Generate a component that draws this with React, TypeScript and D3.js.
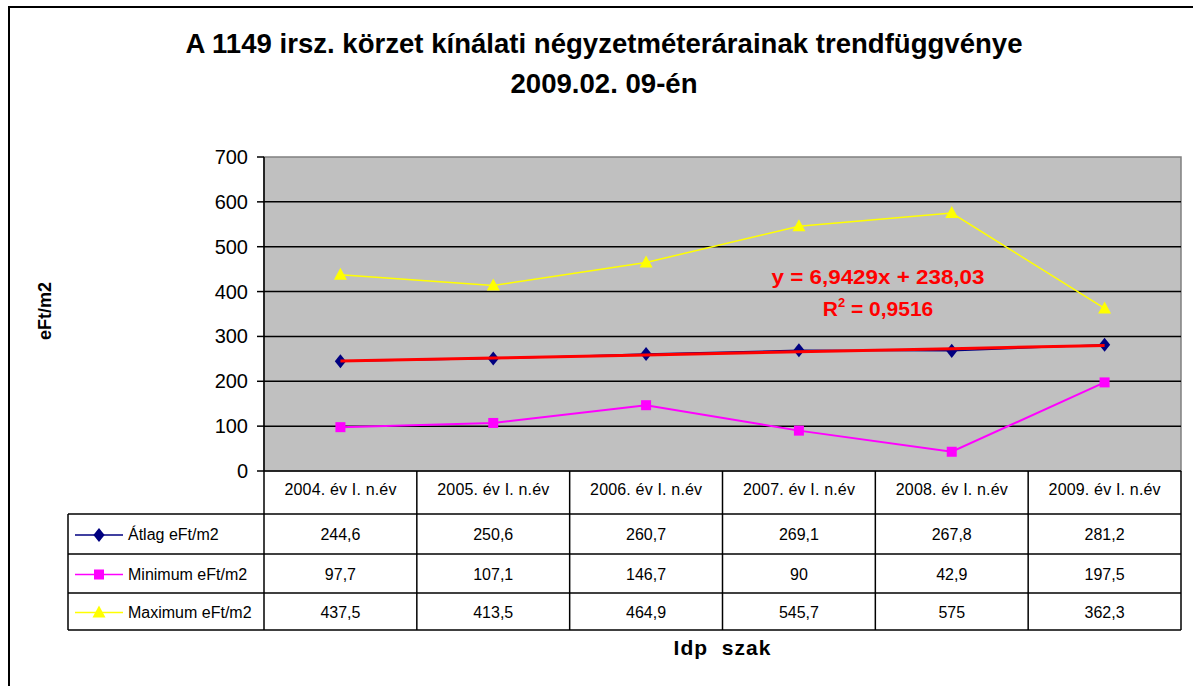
import React from "react";
import * as d3 from "d3";

const categories = ["2004. év I. n.év", "2005. év I. n.év", "2006. év I. n.év", "2007. év I. n.év", "2008. év I. n.év", "2009. év I. n.év"];
const atlag = [244.6, 250.6, 260.7, 269.1, 267.8, 281.2];
const minimum = [97.7, 107.1, 146.7, 90, 42.9, 197.5];
const maximum = [437.5, 413.5, 464.9, 545.7, 575, 362.3];
const seriesNames = ["Átlag eFt/m2", "Minimum eFt/m2", "Maximum eFt/m2"];
const yTicks = [0, 100, 200, 300, 400, 500, 600, 700];
const trendSlope = 6.9429;
const trendIntercept = 238.03;

const fmt = (v: number) => String(v).replace(".", ",");

export default function App() {
  const W = 1193, H = 686;
  const left = 264, right = 1181, top = 157, bottom = 471;
  const x = d3.scaleBand<string>().domain(categories).range([left, right]);
  const y = d3.scaleLinear().domain([0, 700]).range([bottom, top]);
  const cx = (i: number) => (x(categories[i]) as number) + x.bandwidth() / 2;
  const line = d3.line<number>().x((_, i) => cx(i)).y((d) => y(d));
  const rowYs = [471, 514, 554, 593, 630];
  const tableLeft = 68;
  const font = "Liberation Sans, Arial, sans-serif";

  const series = [
    { name: seriesNames[0], data: atlag, color: "#000080", width: 1.5, marker: "diamond" },
    { name: seriesNames[1], data: minimum, color: "#FF00FF", width: 2, marker: "square" },
    { name: seriesNames[2], data: maximum, color: "#FFFF00", width: 1.5, marker: "triangle" },
  ];
  const marker = (type: string, px: number, py: number, color: string, key: string) => {
    if (type === "diamond") {
      const s = d3.symbol(d3.symbolDiamond, 70)();
      return <path key={key} d={s as string} transform={`translate(${px},${py}) scale(1.25,0.9)`} fill={color} />;
    }
    if (type === "square") return <rect key={key} x={px - 5} y={py - 5} width={10} height={10} fill={color} />;
    return <path key={key} d={`M${px},${py - 7}L${px + 6.5},${py + 5}L${px - 6.5},${py + 5}Z`} fill={color} />;
  };

  const trendData = categories.map((_, i) => trendSlope * (i + 1) + trendIntercept);

  return (
    <svg width={W} height={H} style={{ position: "absolute", left: 0, top: 0, background: "#fff" }} fontFamily={font}>
      <rect x={9} y={7} width={1300} height={800} fill="none" stroke="#000" strokeWidth={2} />
      <text x={604} y={53} textAnchor="middle" fontWeight="bold" fontSize={27} textLength={837} lengthAdjust="spacingAndGlyphs">A 1149 irsz. körzet kínálati négyzetméterárainak trendfüggvénye</text>
      <text x={604} y={93} textAnchor="middle" fontWeight="bold" fontSize={27} textLength={187} lengthAdjust="spacingAndGlyphs">2009.02. 09-én</text>

      {/* plot area */}
      <rect x={left} y={top} width={right - left} height={bottom - top} fill="#C0C0C0" stroke="#808080" strokeWidth={1.5} />
      {yTicks.filter((t) => t > 0 && t < 700).map((t) => (
        <line key={t} x1={left} x2={right} y1={y(t)} y2={y(t)} stroke="#000" strokeWidth={1.5} />
      ))}
      <line x1={left} x2={left} y1={top} y2={bottom} stroke="#000" strokeWidth={1.5} />
      {yTicks.map((t) => (
        <g key={t}>
          <line x1={left - 7} x2={left} y1={y(t)} y2={y(t)} stroke="#000" strokeWidth={1.5} />
          <text x={248} y={y(t) + 7} textAnchor="end" fontSize={20}>{t}</text>
        </g>
      ))}

      {series.map((s) => (
        <path key={s.name} d={line(s.data) as string} fill="none" stroke={s.color} strokeWidth={s.width} />
      ))}
      {series.map((s) => s.data.map((v, i) => marker(s.marker, cx(i), y(v), s.color, s.name + i)))}
      <path d={line(trendData) as string} fill="none" stroke="#FF0000" strokeWidth={3} />

      <text x={878} y={284} textAnchor="middle" fontWeight="bold" fontSize={21} fill="#FF0000" textLength={213} lengthAdjust="spacingAndGlyphs">y = 6,9429x + 238,03</text>
      <text x={878} y={316} textAnchor="middle" fontWeight="bold" fontSize={21} fill="#FF0000">
        R<tspan dy={-9} fontSize={13}>2</tspan><tspan dy={9}> = 0,9516</tspan>
      </text>

      {/* table */}
      <g stroke="#000" strokeWidth={1.5}>
        <line x1={left} x2={right} y1={rowYs[0]} y2={rowYs[0]} />
        {rowYs.slice(1).map((ry) => <line key={ry} x1={tableLeft} x2={right} y1={ry} y2={ry} />)}
        <line x1={tableLeft} x2={tableLeft} y1={rowYs[1]} y2={rowYs[4]} />
        {categories.map((c) => <line key={c} x1={x(c) as number} x2={x(c) as number} y1={rowYs[0]} y2={rowYs[4]} />)}
        <line x1={right} x2={right} y1={rowYs[0]} y2={rowYs[4]} />
      </g>
      {categories.map((c, i) => (
        <text key={c} x={cx(i)} y={495} textAnchor="middle" fontSize={16} textLength={112} lengthAdjust="spacing">{c}</text>
      ))}
      {series.map((s, r) => {
        const my = (rowYs[r + 1] + rowYs[r + 2]) / 2;
        return (
          <g key={s.name}>
            <line x1={75} x2={123} y1={my + 1} y2={my + 1} stroke={s.color} strokeWidth={1.5} />
            {marker(s.marker, 99, my + 1, s.color, "lg" + r)}
            <text x={128} y={my + 6} fontSize={16}>{s.name}</text>
            {s.data.map((v, i) => (
              <text key={i} x={cx(i)} y={my + 6} textAnchor="middle" fontSize={16}>{fmt(v)}</text>
            ))}
          </g>
        );
      })}

      <text transform="translate(51,311) rotate(-90)" textAnchor="middle" fontWeight="bold" fontSize={18}>eFt/m2</text>
      <text x={722} y={655} textAnchor="middle" fontWeight="bold" fontSize={21} textLength={97} lengthAdjust="spacing" style={{ whiteSpace: "pre" }}>Idp  szak</text>
    </svg>
  );
}
